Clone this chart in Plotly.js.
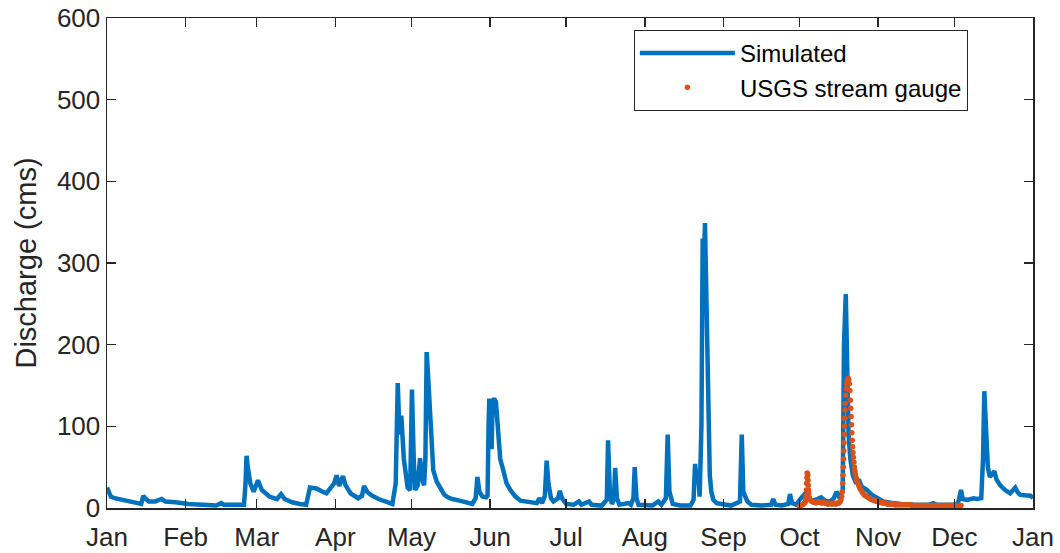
<!DOCTYPE html>
<html>
<head>
<meta charset="utf-8">
<script src="https://cdn.plot.ly/plotly-3.0.1.min.js"></script>
<style>html,body{margin:0;padding:0;background:#fff;}#chart{width:1060px;height:553px;}</style>
</head>
<body>
<div id="chart"></div>
<script>
// Month ticks (day of year, non-leap year)
const monthDays = [0, 31, 59, 90, 120, 151, 181, 212, 243, 273, 304, 334, 365];
const monthLabels = ["Jan","Feb","Mar","Apr","May","Jun","Jul","Aug","Sep","Oct","Nov","Dec","Jan"];

// Simulated discharge (day of year, cms)
const simDay = [0,0.5,1.5,3,6,9,12,13.5,14.3,15,16.5,19,21.5,23,27,32,38,43,45,46,50,54,54.6,55,55.5,56.5,57.8,59.5,61,64,67,68.6,70,73,76,78.5,
  80,82.5,85,86.5,88,89.5,90.5,91.5,93,94,96,99,100.5,101.3,102.5,104,107,110,112.5,113.8,114.6,115.3,116,117,118.5,119.5,120.2,120.9,121.5,122.5,123.4,124.2,125,125.5,126,126.5,127.2,127.8,128.6,130,131,133,134.4,136,139,142,144,145.3,146,146.8,148,149.5,
  150,150.4,150.7,151.2,151.6,152,152.6,153.3,154,155,156.3,157.5,159,161,163,166,169.4,170.4,171.5,172.6,173.3,174,175,176,177.8,178.5,179.3,181,184,186,187,190,191,195,197,197.5,198.2,199,199.8,200.3,201,202,205.5,206.5,207.5,208,208.7,209.5,212,215,217.3,218.5,220.3,221,221.7,223,226,230,
  231.2,231.8,232.4,233,233.6,234.3,234.8,235.3,235.7,236.2,236.7,237.2,237.6,238.2,239,240.3,243,246,249.5,250.2,250.8,252.4,254,258,261.8,262.6,263.5,266,268.5,269.2,270,271.8,
  273,274,275,276,278,280,281.5,283,285,286.5,287.6,288.5,289.5,290,290.5,291.2,291.7,292.3,293,294,295.3,296.3,297.5,299.6,301.5,303.6,306,310,315,320,324,325.7,327,331,335,335.8,336.6,337.3,339,341.5,343,344.6,345.3,345.8,346.5,347.2,348,349.8,350.6,352,354,356,358,359,360,362,364,365];
const simQ = [25,22,14,12,10,8,6,5,15,12,8,8,11,8,7,5,4,3,6,4,4,4,30,64,50,30,20,34,22,14,11,17,11,7,5,4,
  25,24,20,18,24,30,40,27,39,28,18,12,15,27,20,16,11,7,5,30,153,90,113,60,25,22,145,60,22,28,61,35,28,60,191,165,130,80,46,32,26,16,13,11,9,7,5,12,38,20,14,13,
  15,100,134,110,72,130,134,130,95,60,45,30,22,14,9,7,6,12,6,15,58,30,12,8,12,21,12,5,4,8,4,8,4,3,10,83,20,5,10,49,12,4,6,4,12,50,12,4,3,3,8,4,12,90,20,5,3,3,
  10,54,35,44,14,100,330,300,349,280,180,125,40,20,10,6,4,3,8,90,20,8,4,3,4,11,4,3,5,17,6,4,
  10,14,17,12,9,11,13,9,8,12,20,14,16,22,200,262,150,90,60,40,30,35,26,22,16,12,8,6,4,4,4,6,4,4,4,10,22,11,10,12,11,12,60,143,100,50,38,45,35,28,22,18,25,19,16,16,15,12];

// USGS stream gauge observations (day of year, cms)
const obsDay = [273,273.5,274,274.5,275,275.3,275.5,275.6,275.7,275.8,275.9,276,276.1,276.2,276.3,276.4,276.5,276.6,276.8,277,277.5,278,278.5,279,279.5,280,280.5,281,281.5,282,282.5,283,283.5,284,284.5,285,285.5,286,286.5,287,287.5,288,288.5,289,289.3,289.6,289.8,
  290,290.1,290.2,290.3,290.4,290.5,290.6,290.7,290.8,290.9,291,291.2,291.4,291.6,291.8,292,292.2,292.4,292.6,292.8,293,293.15,293.3,293.45,293.6,293.75,293.9,294.05,294.2,294.4,294.6,294.8,295,295.3,295.6,296,296.4,296.8,297.2,297.6,298,298.5,299,299.5,
  300,300.5,301,301.5,302,302.5,303,303.5,304,304.5,305,305.5,306,306.5,307,307.5,308,308.5,309,309.5,310,310.5,311,311.5,312,312.5,313,313.5,314,314.5,315,315.5,316,316.5,317,317.5,318,318.5,319,319.5,
  320,320.5,321,321.5,322,322.5,323,323.5,324,324.5,325,325.5,326,326.5,327,327.5,328,328.5,329,329.5,330,330.5,331,331.5,332,332.5,333,333.5,334,334.5,335,335.5,336,336.6];
const obsQ = [2,3,4,5,6,8,11,15,22,30,37,43,42,40,34,28,22,18,13,11,9,8,7,7,6,7,8,7,6,6,7,6,6,5,5,6,5,5,6,5,5,6,6,8,10,14,20,
  30,40,50,60,70,80,90,100,110,120,128,138,146,152,156,158,159,157,152,144,132,122,112,102,92,83,75,68,62,56,50,45,41,37,33,30,27,24,22,20,18,16,15,14,
  13,12,11,10,10,9,9,8,8,7,7,6,6,6,6,5,5,5,5,5,5,4,4,4,4,4,4,4,4,4,4,4,4,4,4,3,3,3,3,3,
  3,3,3,3,3,3,3,3,3,3,3,3,3,3,3,3,3,3,3,3,3,3,3,3,3,3,3,3,3,3,3,3,3,3];

const font = "Liberation Sans, Arial, Helvetica, sans-serif";
const axisCol = "#262626";

const traces = [
  {x: simDay, y: simQ, type: "scatter", mode: "lines", name: "Simulated",
   line: {color: "#0072BD", width: 4.5}},
  {x: obsDay, y: obsQ, type: "scatter", mode: "markers", name: "USGS stream gauge",
   marker: {color: "#D95319", size: 5.5}}
];

const layout = {
  width: 1060, height: 553,
  margin: {l: 107, r: 27, t: 18, b: 45},
  paper_bgcolor: "#fff", plot_bgcolor: "#fff",
  font: {family: font, color: axisCol, size: 26},
  showlegend: true,
  legend: {x: 0.569, y: 0.9755, xanchor: "left", yanchor: "top",
    bordercolor: axisCol, borderwidth: 1, bgcolor: "#fff",
    font: {family: font, size: 24, color: "#000"}, itemwidth: 95,
    tracegroupgap: 2},
  xaxis: {range: [0, 365], tickmode: "array", tickvals: monthDays, ticktext: monthLabels,
    ticks: "inside", ticklen: 9, tickwidth: 1.5, tickcolor: axisCol,
    showline: true, linecolor: axisCol, linewidth: 1.5, mirror: "ticks",
    showgrid: false, zeroline: false, ticklabelstandoff: 5,
    tickfont: {size: 26, color: axisCol}},
  yaxis: {range: [0, 600], dtick: 100, tick0: 0,
    ticks: "inside", ticklen: 9, tickwidth: 1.5, tickcolor: axisCol,
    showline: true, linecolor: axisCol, linewidth: 1.5, mirror: "ticks",
    showgrid: false, zeroline: false, tickfont: {size: 26, color: axisCol},
    title: {text: "Discharge (cms)", font: {size: 29, color: axisCol}, standoff: 12}}
};

Plotly.newPlot("chart", traces, layout, {displayModeBar: false, staticPlot: true});
</script>
</body>
</html>
